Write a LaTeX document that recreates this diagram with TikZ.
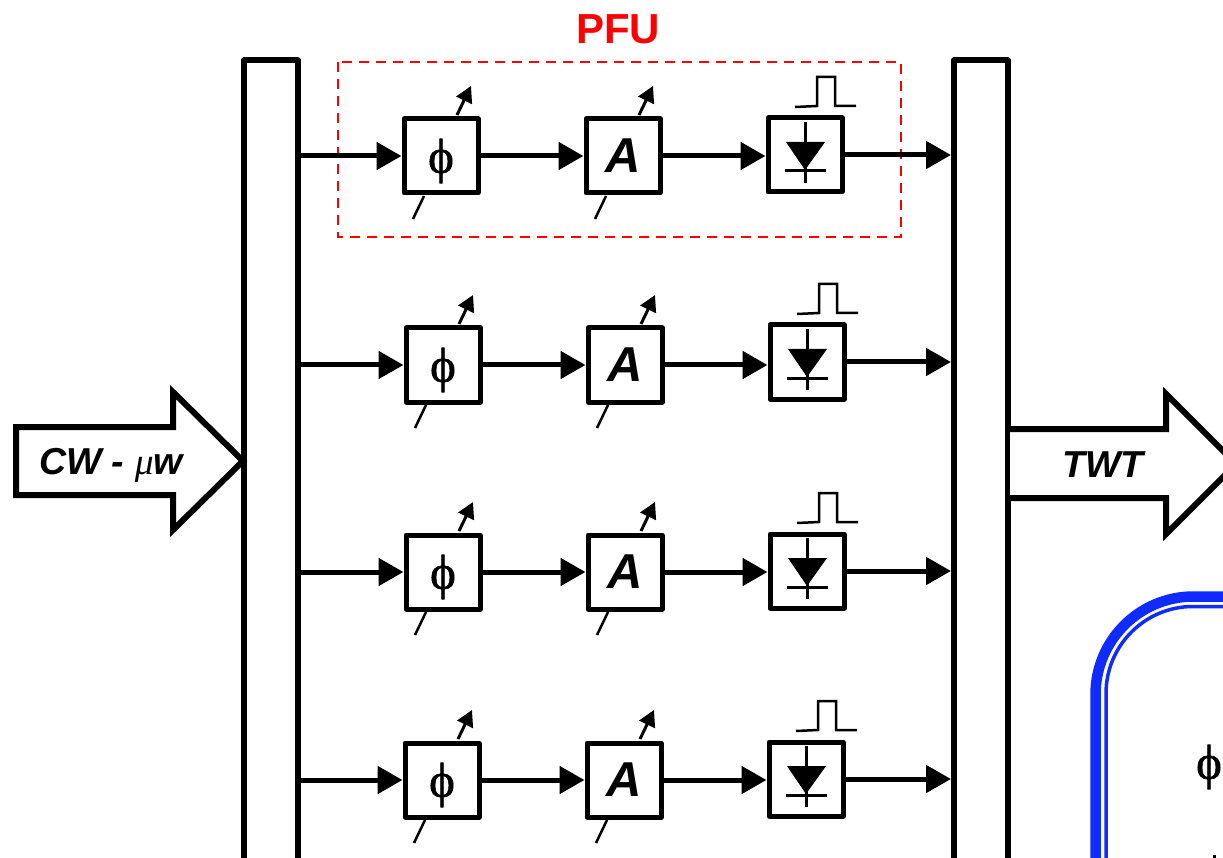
\documentclass[tikz,border=0pt]{standalone}
\usepackage{fontspec}
\setmainfont{Liberation Sans}
\newfontfamily\serifgreek{Liberation Serif}
\newfontfamily\phiserif[FakeBold=1.2]{Liberation Serif}
\usetikzlibrary{positioning,arrows.meta}
\definecolor{pfured}{RGB}{255,0,0}
\definecolor{cabblue}{RGB}{15,43,255}
\newcommand{\phisym}{\raisebox{-5pt}[\height][\depth]{ϕ}}
\tikzset{
  block/.style={draw,line width=5pt,line join=round,minimum size=74pt,inner sep=0pt,fill=white},
  bus/.style={draw,line width=6pt,line join=round,fill=white,minimum width=54pt,minimum height=861pt,inner sep=0pt},
  sig/.style={line width=5pt,-{Triangle[length=25pt,width=27pt]}},
  tune/.style={line width=3pt,-{Triangle[length=16pt,width=17pt]}},
  stub/.style={line width=2.5pt},
  bigarrow/.style={line width=6pt,miter limit=10,fill=white},
  ampfont/.style={font=\fontsize{49}{49}\selectfont\bfseries\itshape},
  phifont/.style={font=\fontsize{49}{49}\phiserif},
  arrowfont/.style={font=\fontsize{37.5}{37.5}\selectfont\bfseries\itshape}
}
\begin{document}
\begin{tikzpicture}[x=1pt,y=-1pt]
  \path[use as bounding box,clip] (0,0) rectangle (1223,858);

  \node[bus] (busin) at (271,491) {};
  \node[bus] (busout) at (981,491) {};

  \node[text=pfured,font=\fontsize{42}{42}\selectfont\bfseries] (pfu) at (618,29) {PFU};
  \draw[pfured,line width=2pt,dash pattern=on 10pt off 7pt] (338,62) rectangle (901,237);

  \foreach \i/\px/\py/\dy in {1/441/156/1,2/443/365/3,3/443/572/1,4/442/780/1} {
    \node[block,phifont] (phi\i) at (\px,\py) {\phisym};
    \node[block,ampfont,right=103pt of phi\i] (amp\i) {A};
    \node[block,right=103pt of amp\i,yshift=\dy pt] (det\i) {};

    \draw[sig] (phi\i.west -| busin.east) -- (phi\i.west);
    \draw[sig] (phi\i.east) -- (amp\i.west);
    \draw[sig] (amp\i.east) -- (amp\i.east -| det\i.west);
    \draw[sig] (det\i.east) -- (det\i.east -| busout.west);

    \draw[tune] ([shift={(16,-41)}]phi\i.center) -- ([shift={(30,-70)}]phi\i.center);
    \draw[stub] ([shift={(-17,40)}]phi\i.center) -- ([shift={(-28,63)}]phi\i.center);
    \draw[tune] ([shift={(16,-41)}]amp\i.center) -- ([shift={(30,-70)}]amp\i.center);
    \draw[stub] ([shift={(-17,40)}]amp\i.center) -- ([shift={(-28,63)}]amp\i.center);

    \fill ([shift={(-19,-13)}]det\i.center) -- ([shift={(20,-13)}]det\i.center) -- ([shift={(0,15)}]det\i.center) -- cycle;
    \draw[line width=3pt] ([shift={(0,-33)}]det\i.center) -- ([shift={(0,28)}]det\i.center);
    \draw[line width=3pt] ([shift={(-20,16)}]det\i.center) -- ([shift={(21,16)}]det\i.center);
    \draw[line width=2.5pt] ([shift={(-10,-48)}]det\i.center) -- ([shift={(12,-49)}]det\i.center)
      -- ([shift={(12,-78)}]det\i.center) -- ([shift={(30,-78)}]det\i.center)
      -- ([shift={(30,-49)}]det\i.center) -- ([shift={(51,-49)}]det\i.center);
  }

  \draw[bigarrow] (16,427) -- (173,427) -- (173,392) -- (243,461) -- (173,530) -- (173,495) -- (16,495) -- cycle;
  \node[arrowfont] (cw) at (111,465) {CW - {\serifgreek\mdseries μ}w};
  \draw[bigarrow] (1010,429) -- (1166,429) -- (1166,394) -- (1236,464) -- (1166,534) -- (1166,498) -- (1010,498);
  \node[arrowfont] (twt) at (1103,465) {TWT};

  \draw[cabblue,line width=10.5pt,rounded corners=98pt] (1095.5,900) -- (1095.5,596.5) -- (1320,596.5);
  \draw[cabblue,line width=3.5pt,rounded corners=87pt] (1106,900) -- (1106,606.5) -- (1320,606.5);
  \node[phifont] (phicab) at (1209,762) {\phisym};
  \draw[line width=3pt] (1214,855) -- (1214,858);
\end{tikzpicture}
\end{document}
